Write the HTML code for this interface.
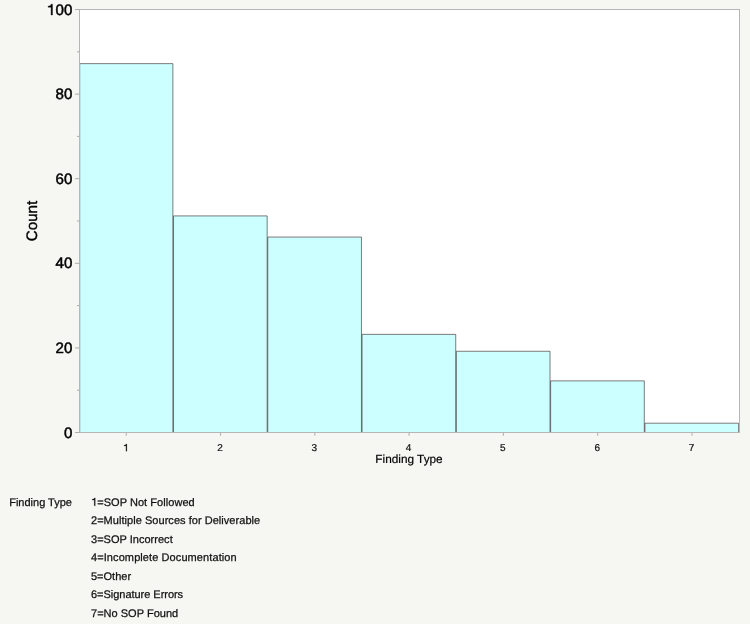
<!DOCTYPE html>
<html><head><meta charset="utf-8"><style>
html,body{margin:0;padding:0}
body{width:750px;height:624px;background:#f6f6f2;position:relative;overflow:hidden;font-family:"Liberation Sans",sans-serif;color:#000;text-rendering:geometricPrecision}
svg{position:absolute;left:0;top:0}
#tx{position:absolute;left:0;top:0;width:750px;height:624px;will-change:transform}
.yl{position:absolute;left:20px;width:52.3px;text-align:right;font-size:15.1px;-webkit-text-stroke:0.5px #000;line-height:18px;height:18px;white-space:nowrap}
.xl{position:absolute;top:442.8px;width:40px;text-align:center;font-size:10px;line-height:12px;height:12px;color:#111;-webkit-text-stroke:0.22px #111}
.xt{-webkit-text-stroke:0.2px #000;position:absolute;left:309px;width:200px;text-align:center;top:450.5px;font-size:11.8px;line-height:16px;white-space:nowrap}
.yt{position:absolute;left:33px;top:221px;width:0;height:0}
.yt span{-webkit-text-stroke:0.4px #000;position:absolute;left:-50px;top:-9px;width:100px;height:18px;line-height:18px;text-align:center;font-size:15.15px;transform:rotate(-90deg);white-space:nowrap}
.lt{-webkit-text-stroke:0.25px #111;position:absolute;left:9.2px;top:495px;font-size:11px;line-height:16px;white-space:nowrap;color:#111}
.lg{-webkit-text-stroke:0.25px #111;position:absolute;left:91px;font-size:11px;line-height:16px;height:16px;white-space:nowrap;color:#111}
</style></head><body>
<svg width="750" height="624" viewBox="0 0 750 624">
<rect x="79.5" y="9.5" width="660.0" height="423.0" fill="#ffffff"/>
<rect x="79.50" y="63.64" width="93.34" height="368.86" fill="#ccffff"/>
<rect x="172.84" y="215.92" width="94.29" height="216.58" fill="#ccffff"/>
<rect x="267.12" y="237.07" width="94.29" height="195.43" fill="#ccffff"/>
<rect x="361.41" y="334.36" width="94.29" height="98.14" fill="#ccffff"/>
<rect x="455.69" y="351.28" width="94.29" height="81.22" fill="#ccffff"/>
<rect x="549.98" y="380.89" width="94.29" height="51.61" fill="#ccffff"/>
<rect x="644.26" y="423.19" width="94.29" height="9.31" fill="#ccffff"/>
<path d="M79.5 63.64 H172.89 V432.5" fill="none" stroke="#4e4343" stroke-opacity="0.7" stroke-width="1"/>
<path d="M173.49 432.5 V215.92 H267.17 V432.5" fill="none" stroke="#4e4343" stroke-opacity="0.7" stroke-width="1"/>
<path d="M267.77 432.5 V237.07 H361.46 V432.5" fill="none" stroke="#4e4343" stroke-opacity="0.7" stroke-width="1"/>
<path d="M362.06 432.5 V334.36 H455.74 V432.5" fill="none" stroke="#4e4343" stroke-opacity="0.7" stroke-width="1"/>
<path d="M456.34 432.5 V351.28 H550.03 V432.5" fill="none" stroke="#4e4343" stroke-opacity="0.7" stroke-width="1"/>
<path d="M550.63 432.5 V380.89 H644.31 V432.5" fill="none" stroke="#4e4343" stroke-opacity="0.7" stroke-width="1"/>
<path d="M644.91 432.5 V423.19 H738.60 V432.5" fill="none" stroke="#4e4343" stroke-opacity="0.7" stroke-width="1"/>
<line x1="80.5" y1="63.64" x2="80.5" y2="432.5" stroke="#333" stroke-opacity="0.13" stroke-width="1"/>
<rect x="79.5" y="9.5" width="660.0" height="423.0" fill="none" stroke="#b6b6b6" stroke-width="1"/>
<line x1="75.0" y1="432.50" x2="79.5" y2="432.50" stroke="#adadad" stroke-width="1"/>
<line x1="77.0" y1="390.20" x2="79.5" y2="390.20" stroke="#adadad" stroke-width="1"/>
<line x1="75.0" y1="347.90" x2="79.5" y2="347.90" stroke="#adadad" stroke-width="1"/>
<line x1="77.0" y1="305.60" x2="79.5" y2="305.60" stroke="#adadad" stroke-width="1"/>
<line x1="75.0" y1="263.30" x2="79.5" y2="263.30" stroke="#adadad" stroke-width="1"/>
<line x1="77.0" y1="221.00" x2="79.5" y2="221.00" stroke="#adadad" stroke-width="1"/>
<line x1="75.0" y1="178.70" x2="79.5" y2="178.70" stroke="#adadad" stroke-width="1"/>
<line x1="77.0" y1="136.40" x2="79.5" y2="136.40" stroke="#adadad" stroke-width="1"/>
<line x1="75.0" y1="94.10" x2="79.5" y2="94.10" stroke="#adadad" stroke-width="1"/>
<line x1="77.0" y1="51.80" x2="79.5" y2="51.80" stroke="#adadad" stroke-width="1"/>
<line x1="75.0" y1="9.50" x2="79.5" y2="9.50" stroke="#adadad" stroke-width="1"/>
<line x1="126.24" y1="432.5" x2="126.24" y2="435.7" stroke="#b4b4b4" stroke-width="1.15"/>
<line x1="220.53" y1="432.5" x2="220.53" y2="435.7" stroke="#b4b4b4" stroke-width="1.15"/>
<line x1="314.81" y1="432.5" x2="314.81" y2="435.7" stroke="#b4b4b4" stroke-width="1.15"/>
<line x1="409.10" y1="432.5" x2="409.10" y2="435.7" stroke="#b4b4b4" stroke-width="1.15"/>
<line x1="503.39" y1="432.5" x2="503.39" y2="435.7" stroke="#b4b4b4" stroke-width="1.15"/>
<line x1="597.67" y1="432.5" x2="597.67" y2="435.7" stroke="#b4b4b4" stroke-width="1.15"/>
<line x1="691.96" y1="432.5" x2="691.96" y2="435.7" stroke="#b4b4b4" stroke-width="1.15"/>
<path transform="translate(47.25 4.19) scale(0.01510)" d="M345 0V716H255V195H60V130C150 130 240 95 262 0Z" fill="#000" stroke="#000" stroke-width="25.2" stroke-linejoin="round"/>
<path transform="translate(123.40 444.04) scale(0.01000)" d="M345 0V716H255V195H60V130C150 130 240 95 262 0Z" fill="#111" stroke="#111" stroke-width="22.0" stroke-linejoin="round"/>
<path transform="translate(91.45 497.92) scale(0.01100)" d="M345 0V716H255V195H60V130C150 130 240 95 262 0Z" fill="#111" stroke="#111" stroke-width="22.7" stroke-linejoin="round"/>
</svg>
<div id="tx">
<div class="yl" style="top:424.60px">0</div>
<div class="yl" style="top:340.00px">20</div>
<div class="yl" style="top:255.40px">40</div>
<div class="yl" style="top:170.80px">60</div>
<div class="yl" style="top:86.20px">80</div>
<div class="yl" style="top:1.60px"><span style="visibility:hidden">1</span>00</div>
<div class="xl" style="left:200.03px">2</div>
<div class="xl" style="left:294.31px">3</div>
<div class="xl" style="left:388.60px">4</div>
<div class="xl" style="left:482.89px">5</div>
<div class="xl" style="left:577.17px">6</div>
<div class="xl" style="left:671.46px">7</div>
<div class="lg" style="top:495px;letter-spacing:0.05px"><span style="visibility:hidden">1</span>=SOP Not Followed</div>
<div class="lg" style="top:513px;letter-spacing:0.04px">2=Multiple Sources for Deliverable</div>
<div class="lg" style="top:532px;letter-spacing:0.02px">3=SOP Incorrect</div>
<div class="lg" style="top:550px;letter-spacing:0.09px">4=Incomplete Documentation</div>
<div class="lg" style="top:569px;letter-spacing:0px">5=Other</div>
<div class="lg" style="top:587px;letter-spacing:-0.03px">6=Signature Errors</div>
<div class="lg" style="top:606px;letter-spacing:0.02px">7=No SOP Found</div>
<div class="xt">Finding Type</div>
<div class="yt"><span>Count</span></div>
<div class="lt">Finding Type</div>
</div>
</body></html>
